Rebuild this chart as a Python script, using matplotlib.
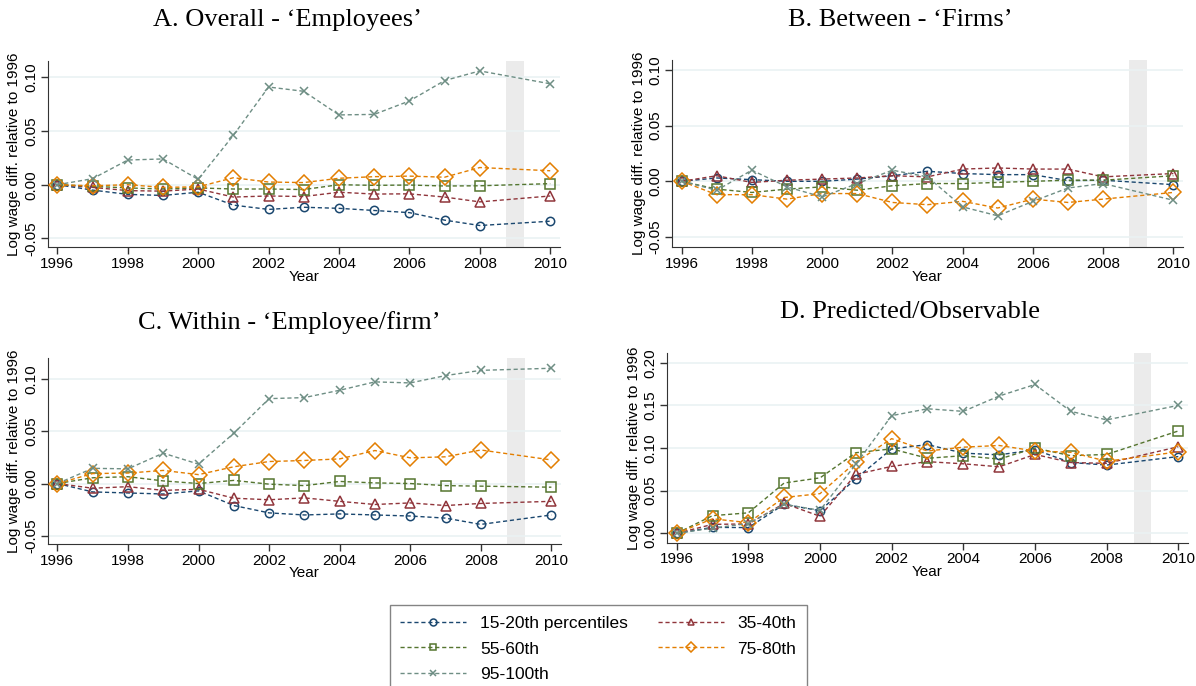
import matplotlib.pyplot as plt
from matplotlib.ticker import FormatStrFormatter

years = [1996, 1997, 1998, 1999, 2000, 2001, 2002, 2003, 2004, 2005, 2006, 2007, 2008, 2010]
labels = ['15-20th percentiles', '35-40th', '55-60th', '75-80th', '95-100th']
colors = ['#1a476f', '#90353b', '#55752f', '#e37e00', '#6e8e84']
markers = ['o', '^', 's', 'D', 'x']
msizes = [6, 7, 6.5, 8, 6]

# A. Overall
a_p15 = [0, -0.005, -0.009, -0.010, -0.007, -0.019, -0.023, -0.021, -0.022, -0.024, -0.026, -0.033, -0.038, -0.034]
a_p35 = [0, -0.0025, -0.0055, -0.006, -0.004, -0.0115, -0.0105, -0.011, -0.007, -0.0087, -0.0085, -0.0115, -0.016, -0.0105]
a_p55 = [0, -0.0015, -0.003, -0.004, -0.003, -0.004, -0.004, -0.0045, 0.0, -0.0006, -0.0003, -0.0012, -0.001, 0.001]
a_p75 = [0, -0.001, 0.0, -0.0025, -0.002, 0.0065, 0.0025, 0.002, 0.006, 0.0075, 0.008, 0.007, 0.016, 0.013]
a_p95 = [0, 0.0056, 0.023, 0.024, 0.005, 0.046, 0.091, 0.087, 0.065, 0.0655, 0.078, 0.097, 0.106, 0.094]

# B. Between
b_p15 = [0, 0.003, 0.0015, 0.0, 0.0, 0.002, 0.005, 0.009, 0.007, 0.006, 0.006, 0.0006, 0.001, -0.003]
b_p35 = [0, 0.005, -0.001, 0.001, 0.002, 0.003, 0.005, 0.004, 0.011, 0.012, 0.011, 0.011, 0.004, 0.007]
b_p55 = [0, -0.007, -0.010, -0.007, -0.005, -0.008, -0.004, -0.002, -0.002, -0.001, 0.0, 0.001, 0.001, 0.005]
b_p75 = [0, -0.012, -0.012, -0.016, -0.011, -0.011, -0.019, -0.021, -0.018, -0.024, -0.016, -0.019, -0.016, -0.010]
b_p95 = [0, -0.008, 0.010, -0.005, -0.014, -0.002, 0.010, 0.004, -0.023, -0.031, -0.018, -0.006, -0.002, -0.017]

# C. Within
c_p15 = [0, -0.008, -0.009, -0.010, -0.007, -0.021, -0.028, -0.030, -0.029, -0.030, -0.031, -0.033, -0.039, -0.030]
c_p35 = [0, -0.0045, -0.003, -0.0065, -0.0055, -0.014, -0.0155, -0.0137, -0.017, -0.020, -0.0185, -0.021, -0.019, -0.017]
c_p55 = [0, 0.0055, 0.0065, 0.0025, 0.0, 0.003, -0.0006, -0.002, 0.002, 0.0006, 0.0, -0.002, -0.0025, -0.0035]
c_p75 = [0, 0.0095, 0.010, 0.0125, 0.0085, 0.016, 0.021, 0.022, 0.0235, 0.0315, 0.0245, 0.0255, 0.032, 0.0225]
c_p95 = [0, 0.0145, 0.014, 0.029, 0.0185, 0.048, 0.081, 0.082, 0.089, 0.097, 0.096, 0.103, 0.108, 0.110]

# D. Predicted/Observable
d_p15 = [0, 0.007, 0.0067, 0.034, 0.0265, 0.064, 0.099, 0.104, 0.094, 0.092, 0.098, 0.083, 0.080, 0.090]
d_p35 = [0, 0.0105, 0.011, 0.035, 0.020, 0.069, 0.0785, 0.084, 0.0815, 0.078, 0.0925, 0.083, 0.082, 0.1015]
d_p55 = [0, 0.0207, 0.024, 0.059, 0.065, 0.0945, 0.099, 0.088, 0.091, 0.087, 0.100, 0.091, 0.0925, 0.120]
d_p75 = [0, 0.017, 0.0125, 0.042, 0.0465, 0.0835, 0.111, 0.0965, 0.101, 0.103, 0.0965, 0.095, 0.0845, 0.0955]
d_p95 = [0, 0.006, 0.0115, 0.034, 0.027, 0.081, 0.138, 0.146, 0.143, 0.161, 0.1745, 0.143, 0.133, 0.150]

# title, series, axes rect, ylim, yticks, title (x, baseline y)
panels = [
    ('A. Overall - \u2018Employees\u2019', [a_p15, a_p35, a_p55, a_p75, a_p95],
     [0.040, 0.6395, 0.428, 0.272], (-0.0583, 0.1155), [-0.05, 0.0, 0.05, 0.10], (0.240, 0.962)),
    ('B. Between - \u2018Firms\u2019', [b_p15, b_p35, b_p55, b_p75, b_p95],
     [0.562, 0.6395, 0.427, 0.273], (-0.0593, 0.109), [-0.05, 0.0, 0.05, 0.10], (0.753, 0.962)),
    ('C. Within - \u2018Employee/firm\u2019', [c_p15, c_p35, c_p55, c_p75, c_p95],
     [0.040, 0.207, 0.429, 0.2707], (-0.0577, 0.1195), [-0.05, 0.0, 0.05, 0.10], (0.242, 0.520)),
    ('D. Predicted/Observable', [d_p15, d_p35, d_p55, d_p75, d_p95],
     [0.5577, 0.2089, 0.4356, 0.276], (-0.011, 0.211), [0.0, 0.05, 0.10, 0.15, 0.20], (0.761, 0.537)),
]

fig = plt.figure(figsize=(11.96, 6.86), dpi=100)
sans = 'Liberation Sans'
serif = 'Liberation Serif'

handles = []
for title, series, pos, ylim, yticks, tpos in panels:
    ax = fig.add_axes(pos)
    ax.axvspan(2008.75, 2009.25, color='#ebebeb', zorder=0, lw=0)
    for yt in yticks:
        ax.axhline(yt, color='#eaf2f3', lw=1.2, zorder=0.5)
    hs = []
    for vals, c, m, ms in zip(series, colors, markers, msizes):
        h, = ax.plot(years, vals, color=c, ls=(0, (3, 2)), lw=1.0,
                     marker=m, ms=ms, mfc='none', mec=c, mew=1.1, zorder=3)
        hs.append(h)
    handles = hs
    ax.set_xlim(1995.73, 2010.27)
    ax.set_ylim(*ylim)
    ax.set_xticks([1996, 1998, 2000, 2002, 2004, 2006, 2008, 2010])
    ax.set_yticks(yticks)
    ax.yaxis.set_major_formatter(FormatStrFormatter('%.2f'))
    for lab in ax.get_xticklabels():
        lab.set_fontfamily(sans)
        lab.set_fontsize(11)
    for lab in ax.get_yticklabels():
        lab.set_fontfamily(sans)
        lab.set_fontsize(11)
        lab.set_rotation(90)
        lab.set_va('center')
    ax.tick_params(direction='out', length=5, width=1, color='#333333', pad=2)
    ax.spines['top'].set_visible(False)
    ax.spines['right'].set_visible(False)
    ax.spines['left'].set_color('#333333')
    ax.spines['bottom'].set_color('#333333')
    ax.set_xlabel('Year', family=sans, fontsize=11, labelpad=-1)
    ax.set_ylabel('Log wage diff. relative to 1996', family=sans, fontsize=11, labelpad=2)
    fig.text(tpos[0], tpos[1], title, family=serif, fontsize=19,
             ha='center', va='baseline')

order = [0, 2, 4, 1, 3]
leg = fig.legend([handles[i] for i in order], [labels[i] for i in order],
                 loc='upper left', bbox_to_anchor=(0.326, 0.118), ncol=2,
                 prop={'family': sans, 'size': 12.5}, handlelength=3.8,
                 frameon=True, fancybox=False, edgecolor='#666666',
                 columnspacing=1.7, labelspacing=0.62, borderpad=0.6,
                 handletextpad=0.8, borderaxespad=0)
leg.get_frame().set_linewidth(1.0)
for h in leg.legend_handles:
    h.set_markersize(5)

fig.savefig('out.png', dpi=100)
